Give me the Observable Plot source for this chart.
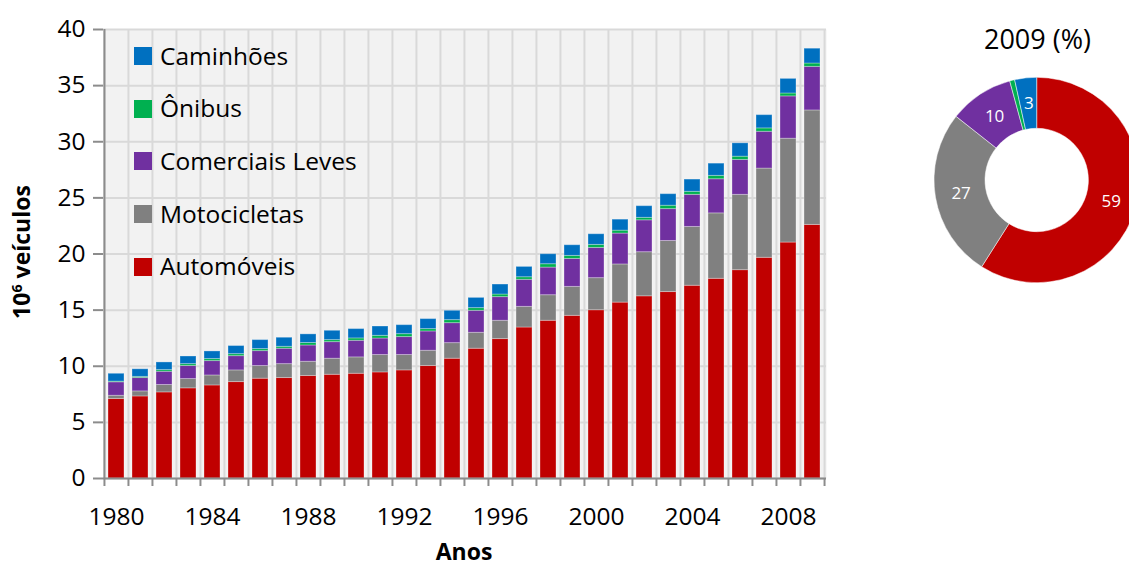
<!DOCTYPE html>
<html><head><meta charset="utf-8">
<script src="https://cdn.jsdelivr.net/npm/d3@7"></script>
<script src="https://cdn.jsdelivr.net/npm/@observablehq/plot@0.6"></script>
<style>
html,body{margin:0;padding:0;background:#fff;width:1129px;height:569px;overflow:hidden;font-family:"Open Sans",sans-serif;color:#000;}
#root{position:relative;width:1129px;height:569px;overflow:hidden;}
.legend{position:absolute;left:134px;top:29.6px;}
.legend .row{display:flex;align-items:center;height:52.7px;font-size:24.5px;line-height:1;white-space:nowrap;}
.legend .sw{width:18px;height:18px;margin-right:8px;flex:none;}
.ytitle{position:absolute;left:21px;top:252px;transform:translate(-50%,-50%) rotate(-90deg);white-space:nowrap;font-weight:700;font-size:23px;line-height:1;}
.ytitle .sup{font-size:0.62em;vertical-align:0.55em;}
.xtitle{position:absolute;left:464px;top:551px;transform:translate(-50%,-50%);font-weight:700;font-size:23px;line-height:1;white-space:nowrap;}
.dtitle{position:absolute;left:1037.5px;top:37.5px;transform:translate(-50%,-50%);font-size:27px;line-height:1;white-space:nowrap;}
</style></head><body><div id="root"></div>
<script>
// ---- data ----
const years = [1980,1981,1982,1983,1984,1985,1986,1987,1988,1989,1990,1991,1992,1993,1994,1995,1996,1997,1998,1999,2000,2001,2002,2003,2004,2005,2006,2007,2008,2009];
const seriesNames = ["Automóveis","Motocicletas","Comerciais Leves","Ônibus","Caminhões"];
const seriesColors = ["#c00000","#808080","#7030a0","#00b050","#0070c0"];
const automoveis = [7.08,7.31,7.67,8.03,8.29,8.59,8.89,8.95,9.13,9.24,9.33,9.45,9.63,10.02,10.67,11.56,12.42,13.45,14.05,14.49,14.99,15.67,16.23,16.61,17.17,17.79,18.56,19.66,21.02,22.59];
const motocicletas = [0.29,0.45,0.66,0.83,0.89,1.04,1.13,1.24,1.27,1.43,1.46,1.55,1.37,1.36,1.39,1.42,1.63,1.84,2.28,2.58,2.86,3.40,3.93,4.55,5.24,5.83,6.71,7.95,9.25,10.20];
const comerciaisLeves = [1.20,1.19,1.18,1.16,1.28,1.27,1.33,1.37,1.45,1.48,1.48,1.47,1.60,1.72,1.78,1.96,2.11,2.41,2.46,2.49,2.69,2.75,2.84,2.84,2.86,3.04,3.11,3.28,3.77,3.88];
const onibus = [0.06,0.10,0.15,0.17,0.18,0.18,0.18,0.17,0.22,0.18,0.21,0.24,0.26,0.21,0.27,0.24,0.23,0.23,0.30,0.27,0.27,0.26,0.22,0.30,0.27,0.30,0.29,0.30,0.26,0.30];
const caminhoes = [0.70,0.68,0.68,0.68,0.68,0.72,0.80,0.81,0.77,0.83,0.83,0.83,0.80,0.89,0.83,0.91,0.89,0.92,0.89,0.95,0.95,0.98,1.04,1.03,1.09,1.09,1.19,1.18,1.30,1.32];
const seriesValues = [automoveis, motocicletas, comerciaisLeves, onibus, caminhoes];
const xTickLabels = [1980,1984,1988,1992,1996,2000,2004,2008];
const yTicks = [0,5,10,15,20,25,30,35,40];
const legendOrder = ["Caminhões","Ônibus","Comerciais Leves","Motocicletas","Automóveis"];
const donutYear = 2009;

// ---- layout ----
const root = document.getElementById("root");
const W = 840, H = 569, mL = 103, mR = 14, mT = 29, mB = 91;
const step = (W - mL - mR) / years.length;
const axisColor = "#8c8c8c", gridColor = "#d9d9d9";
const colorOf = name => seriesColors[seriesNames.indexOf(name)];

const table = years.flatMap((year, i) => seriesNames.map((name, k) => ({year, name, value: seriesValues[k][i]})));

const chart = Plot.plot({
  width: W, height: H, marginLeft: mL, marginRight: mR, marginTop: mT, marginBottom: mB,
  style: {fontFamily: "'Open Sans', sans-serif", fontSize: "24.5px", color: "#000", background: "transparent", overflow: "visible"},
  x: {type: "band", domain: years, paddingInner: 0.33, paddingOuter: 0.165, axis: null},
  y: {domain: [0, 40], axis: null},
  color: {domain: seriesNames, range: seriesColors},
  marks: [
    Plot.frame({fill: "#f2f2f2", stroke: null}),
    Plot.ruleY(yTicks, {stroke: gridColor, strokeWidth: 2}),
    Plot.ruleX(years, {x: d => d, dx: -step / 2, stroke: gridColor, strokeWidth: 2}),
    Plot.ruleX([years[years.length - 1]], {x: d => d, dx: step / 2, stroke: gridColor, strokeWidth: 2}),
    Plot.barY(table, {x: "year", y: "value", fill: "name", stroke: "#fff", strokeOpacity: 0.3, strokeWidth: 1}),
    Plot.ruleY([0], {stroke: axisColor, strokeWidth: 2}),
    Plot.ruleX([years[0]], {x: d => d, dx: -step / 2, stroke: axisColor, strokeWidth: 2}),
    Plot.axisY({ticks: yTicks, tickSize: 10, tickPadding: 8, stroke: axisColor, strokeWidth: 2, fontSize: 24.5, label: null}),
    Plot.axisX({ticks: years, tickSize: 8, tickFormat: () => "", dx: -step / 2, stroke: axisColor, strokeWidth: 2, label: null}),
    Plot.axisX({ticks: [years[years.length - 1]], tickSize: 8, tickFormat: () => "", dx: step / 2, stroke: axisColor, strokeWidth: 2, label: null}),
    Plot.axisX({ticks: xTickLabels, tickSize: 0, tickPadding: 29, tickFormat: d => String(d), fontSize: 24.5, label: null})
  ]
});
chart.style.position = "absolute"; chart.style.left = "0px"; chart.style.top = "0px";
root.appendChild(chart);

// legend
const legend = document.createElement("div");
legend.className = "legend";
legendOrder.forEach(name => {
  const row = document.createElement("div"); row.className = "row";
  const sw = document.createElement("span"); sw.className = "sw"; sw.style.background = colorOf(name);
  const tx = document.createElement("span"); tx.textContent = name;
  row.appendChild(sw); row.appendChild(tx); legend.appendChild(row);
});
root.appendChild(legend);

// axis titles
const yt = document.createElement("div"); yt.className = "ytitle";
yt.innerHTML = '10<span class="sup">6</span> veículos';
root.appendChild(yt);
const xt = document.createElement("div"); xt.className = "xtitle"; xt.textContent = "Anos";
root.appendChild(xt);

// ---- donut ----
const yi = years.indexOf(donutYear);
const slices = seriesNames.map((name, k) => ({name, value: seriesValues[k][yi]}));
const total = d3.sum(slices, d => d.value);
const arcs = d3.pie().sort(null).value(d => d.value)(slices);
const innerFrac = 51.7 / 102.7;
const labelArc = d3.arc().innerRadius(innerFrac).outerRadius(1);
const donutLabels = arcs.map(a => {
  const [cx, cy] = labelArc.centroid(a);
  const pct = Math.round(100 * a.data.value / total);
  return {x: cx, y: -cy, text: pct >= 2 ? String(pct) : ""};
});
const DW = 229, DH = 300, dcx = 136.7, dcy = 180, R = 102.7;
const donut = Plot.plot({
  width: DW, height: DH, margin: 0,
  style: {fontFamily: "'Open Sans', sans-serif", background: "transparent", overflow: "visible"},
  x: {domain: [-1, 1], range: [dcx - R, dcx + R], axis: null},
  y: {domain: [-1, 1], range: [dcy + R, dcy - R], axis: null},
  marks: [
    (index, scales) => {
      const cx = scales.x(0), cy = scales.y(0), r = scales.x(1) - cx;
      const arc = d3.arc().innerRadius(r * innerFrac).outerRadius(r);
      const g = d3.create("svg:g").attr("transform", `translate(${cx},${cy})`);
      g.selectAll("path").data(arcs).join("path")
        .attr("d", arc).attr("fill", d => colorOf(d.data.name))
        .attr("stroke", "#fff").attr("stroke-width", 0.5);
      return g.node();
    },
    Plot.text(donutLabels, {x: "x", y: "y", text: "text", fill: "#fff", fontSize: 17})
  ]
});
donut.style.position = "absolute"; donut.style.left = "900px"; donut.style.top = "0px";
root.appendChild(donut);

const dt = document.createElement("div"); dt.className = "dtitle"; dt.textContent = donutYear + " (%)";
root.appendChild(dt);
</script>
</body></html>
